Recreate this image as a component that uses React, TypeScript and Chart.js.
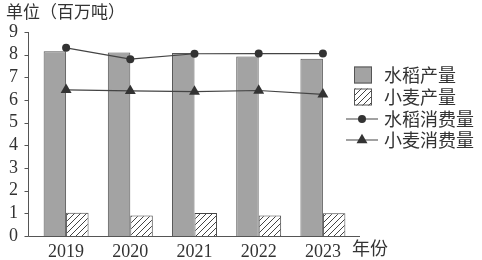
import React, { useEffect, useRef } from "react";
import { Chart, registerables } from "chart.js";
Chart.register(...registerables);

const years = ["2019", "2020", "2021", "2022", "2023"];
const riceProduction = [8.15, 8.1, 8.07, 7.92, 7.82];
const wheatProduction = [1.03, 0.9, 1.02, 0.9, 1.0];
const riceConsumption = [8.3, 7.8, 8.04, 8.05, 8.05];
const wheatConsumption = [6.45, 6.4, 6.37, 6.42, 6.25];
const yTickValues = [0, 1, 2, 3, 4, 5, 6, 7, 8, 9];
const legendLabels = ["水稻产量", "小麦产量", "水稻消费量", "小麦消费量"];
const unitTitle = "单位（百万吨）";
const xTitle = "年份";

const INK = "#333333";
const AXIS = "#555555";
const BAR_GRAY = "#a3a3a3";
const CJK = "'Noto Sans CJK SC', sans-serif";
const SERIF = "'Liberation Serif', 'DejaVu Serif', serif";

function makeHatch(): CanvasPattern | string {
  const c = document.createElement("canvas");
  c.width = 6;
  c.height = 6;
  const g = c.getContext("2d");
  if (!g) return "#fff";
  g.fillStyle = "#ffffff";
  g.fillRect(0, 0, 6, 6);
  g.strokeStyle = "#444";
  g.lineWidth = 1;
  g.beginPath();
  g.moveTo(0, 6);
  g.lineTo(6, 0);
  g.moveTo(-1, 1);
  g.lineTo(1, -1);
  g.moveTo(5, 7);
  g.lineTo(7, 5);
  g.stroke();
  const p = g.createPattern(c, "repeat");
  return p || "#fff";
}

export default function App() {
  const ref = useRef<HTMLCanvasElement | null>(null);
  useEffect(() => {
    if (!ref.current) return;
    const hatch = makeHatch();
    const overlay = {
      id: "overlay",
      afterDraw(chart: any) {
        const ctx = chart.ctx;
        const area = chart.chartArea;
        const yScale = chart.scales.y;
        ctx.save();
        const ax = 28.5;
        const by = Math.round(area.bottom) + 0.5;
        ctx.strokeStyle = AXIS;
        ctx.lineWidth = 1;
        ctx.beginPath();
        ctx.moveTo(ax, yScale.getPixelForValue(yTickValues[yTickValues.length - 1]));
        ctx.lineTo(ax, by);
        ctx.lineTo(area.right + 5, by);
        yTickValues.forEach((v) => {
          const py = Math.round(yScale.getPixelForValue(v)) + 0.5;
          ctx.moveTo(ax - 4, py);
          ctx.lineTo(ax, py);
        });
        ctx.stroke();

        ctx.fillStyle = INK;
        ctx.textBaseline = "middle";
        ctx.textAlign = "left";
        ctx.font = `17px ${CJK}`;
        ctx.fillText(unitTitle, 6, 12);
        ctx.font = `18px ${CJK}`;
        ctx.fillText(xTitle, 352, 248);
        const lx = 354;
        const tx = 384;
        const ys = [75, 97, 119, 140];
        ctx.fillStyle = BAR_GRAY;
        ctx.fillRect(lx, ys[0] - 8.5, 18, 17);
        ctx.strokeStyle = AXIS;
        ctx.lineWidth = 1;
        ctx.strokeRect(lx + 0.5, ys[0] - 8.5 + 0.5, 17, 16);
        ctx.fillStyle = hatch as any;
        ctx.fillRect(lx, ys[1] - 8.5, 18, 17);
        ctx.strokeRect(lx + 0.5, ys[1] - 8.5 + 0.5, 17, 16);
        ctx.strokeStyle = "#444";
        ctx.lineWidth = 1.2;
        ctx.beginPath();
        ctx.moveTo(346, ys[2]);
        ctx.lineTo(378, ys[2]);
        ctx.moveTo(346, ys[3]);
        ctx.lineTo(378, ys[3]);
        ctx.stroke();
        ctx.fillStyle = INK;
        ctx.beginPath();
        ctx.arc(362, ys[2], 4, 0, Math.PI * 2);
        ctx.fill();
        const r = 6.3;
        ctx.beginPath();
        ctx.moveTo(362, ys[3] - r);
        ctx.lineTo(362 + r * 0.866, ys[3] + r * 0.5);
        ctx.lineTo(362 - r * 0.866, ys[3] + r * 0.5);
        ctx.closePath();
        ctx.fill();
        ctx.fillStyle = INK;
        ctx.font = `18px ${CJK}`;
        legendLabels.forEach((t, i) => ctx.fillText(t, tx, ys[i]));
        ctx.restore();
      },
    };
    const chart = new Chart(ref.current, {
      type: "bar",
      data: {
        labels: years,
        datasets: [
          {
            type: "line",
            label: legendLabels[2],
            data: riceConsumption,
            borderColor: "#444",
            borderWidth: 1.2,
            pointStyle: "circle",
            pointRadius: 4,
            pointBackgroundColor: INK,
            pointBorderColor: INK,
            pointBorderWidth: 0,
            order: 0,
          } as any,
          {
            type: "line",
            label: legendLabels[3],
            data: wheatConsumption,
            borderColor: "#444",
            borderWidth: 1.2,
            pointStyle: "triangle",
            pointRadius: 6.3,
            pointBackgroundColor: INK,
            pointBorderColor: INK,
            pointBorderWidth: 0,
            order: 0,
          } as any,
          {
            label: legendLabels[0],
            data: riceProduction,
            backgroundColor: BAR_GRAY,
            borderColor: AXIS,
            borderWidth: 1,
            categoryPercentage: 0.7,
            barPercentage: 1,
            order: 1,
          },
          {
            label: legendLabels[1],
            data: wheatProduction,
            backgroundColor: hatch as any,
            borderColor: "#444",
            borderWidth: 1,
            categoryPercentage: 0.7,
            barPercentage: 1,
            order: 1,
          },
        ],
      },
      options: {
        responsive: false,
        animation: false,
        layout: { padding: { left: 0, top: 32, right: 127, bottom: 0 } },
        plugins: { legend: { display: false }, tooltip: { enabled: false }, title: { display: false } },
        scales: {
          x: {
            offset: true,
            grid: { display: false },
            border: { display: false },
            ticks: { color: INK, font: { family: SERIF, size: 18 }, padding: -3 },
            afterFit: (s: any) => {
              s.height = 24;
            },
          },
          y: {
            min: 0,
            max: 9,
            grid: { display: false },
            border: { display: false },
            ticks: {
              stepSize: 1,
              autoSkip: false,
              color: INK,
              font: { family: SERIF, size: 18 },
              padding: 8,
            },
            afterFit: (s: any) => {
              s.width = 34;
            },
          },
        },
      },
      plugins: [overlay],
    });
    return () => chart.destroy();
  }, []);
  return (
    <div style={{ position: "absolute", left: 0, top: 0, width: 482, height: 260, background: "#fff" }}>
      <canvas ref={ref} width={482} height={260} style={{ display: "block" }} />
    </div>
  );
}
